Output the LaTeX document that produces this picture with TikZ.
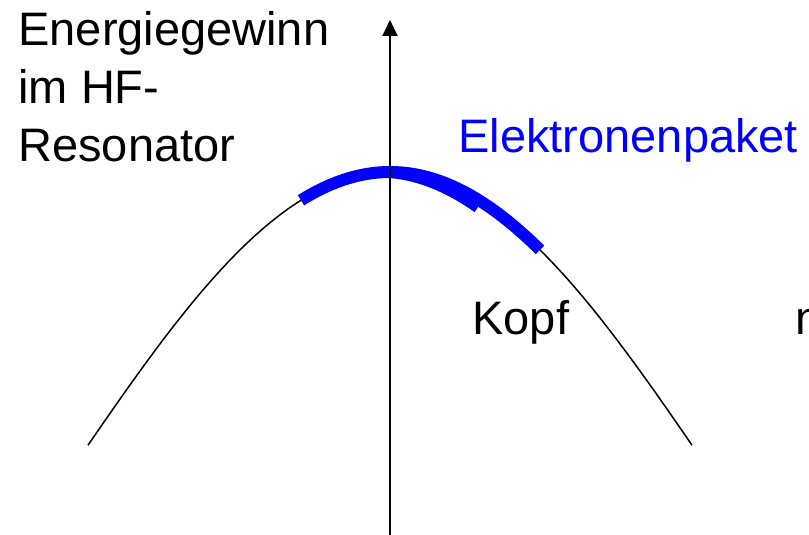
\documentclass[tikz,border=0pt]{standalone}
\usepackage{fontspec}
\setmainfont{Liberation Sans}
\usetikzlibrary{arrows.meta}
\tikzset{
  lbl/.style={anchor=base west,inner sep=0pt,font=\fontsize{23.5}{29}\selectfont},
  bluelbl/.style={lbl,text=blue},
  axis/.style={line width=1pt,-{Triangle[width=7.5pt,length=8pt]}},
  gain/.style={line width=0.75pt},
  bunch/.style={line width=6pt,blue,line cap=butt}
}
\newcommand{\gainy}[1]{172+294*(1-cos(deg(1.5*(#1)/302)))}

\begin{document}
\begin{tikzpicture}[x=0.5pt,y=-0.5pt]
\clip (0,0) rectangle (809,535);
\coordinate (axbot) at (390,535);
\coordinate (axtop) at (390,20);
\draw[gain] plot[domain=-302:302,samples=120] ({390+\x},{\gainy{\x}});
\draw[bunch] plot[domain=-89:150,samples=80] ({390+\x},{\gainy{\x}});
\draw[bunch] plot[domain=0:88,samples=40] ({390+\x},{0.085*\x+\gainy{\x}});
\draw[axis] (axbot) -- (axtop);
\node[lbl] (ylab1) at (18,46) {Energiegewinn};
\node[lbl] (ylab2) at (18,104) {im HF-};
\node[lbl] (ylab3) at (18,162) {Resonator};
\node[bluelbl] (paket) at (458,153) {Elektronenpaket};
\node[lbl] (kopf) at (472,334) {Kopf};
\node[lbl] (cut) at (795,334) {n};
\end{tikzpicture}
\end{document}
